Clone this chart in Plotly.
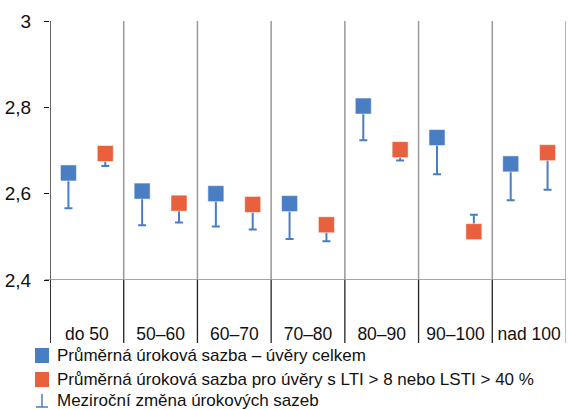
import plotly.graph_objects as go

categories = ["do 50", "50–60", "60–70", "70–80", "80–90", "90–100", "nad 100"]
rate_all = [2.648, 2.606, 2.600, 2.577, 2.803, 2.730, 2.669]
rate_all_prev = [2.566, 2.527, 2.524, 2.495, 2.724, 2.645, 2.585]
rate_risky = [2.693, 2.578, 2.575, 2.528, 2.702, 2.512, 2.695]
rate_risky_prev = [2.664, 2.533, 2.517, 2.490, 2.677, 2.551, 2.609]
y_ticks = [2.4, 2.6, 2.8, 3.0]
y_ticklabels = ["2,4", "2,6", "2,8", "3"]
legend_names = [
    "Průměrná úroková sazba – úvěry celkem",
    "Průměrná úroková sazba pro úvěry s LTI > 8 nebo LSTI > 40 %",
    "Meziroční změna úrokových sazeb",
]

BLUE = "#4a7ec3"
ORANGE = "#e8603e"
FONT = "Liberation Sans, Arial, sans-serif"

# plot area geometry (px)
L, R, T, B = 50, 566, 21, 280
W, H = 568, 410
pw, ph = R - L, B - T


def px_x(X):
    return (X - L) / pw


def px_y(Y):
    return (B - Y) / ph


n = len(categories)
xs = list(range(n))


def err(cur, prev):
    plus = [max(p - c, 0) for c, p in zip(cur, prev)]
    minus = [max(c - p, 0) for c, p in zip(cur, prev)]
    return plus, minus


fig = go.Figure()
for vals, prev, col, off, name in [
    (rate_all, rate_all_prev, BLUE, -0.25, legend_names[0]),
    (rate_risky, rate_risky_prev, ORANGE, 0.25, legend_names[1]),
]:
    plus, minus = err(vals, prev)
    fig.add_trace(go.Scatter(
        x=[x + off for x in xs], y=vals, mode="markers", name=name,
        marker=dict(symbol="square", size=16, color=col,
                    line=dict(color="rgba(255,255,255,0.5)", width=1)),
        error_y=dict(type="data", symmetric=False, array=plus, arrayminus=minus,
                     color=BLUE, thickness=2, width=4),
        showlegend=False,
    ))

shapes = []
below = -(343 - B) / ph
for i in range(n + 1):
    xb = i - 0.5
    if i > 0:
        shapes.append(dict(type="line", xref="x", yref="paper", x0=xb, x1=xb, y0=0, y1=1,
                           line=dict(color="#999999", width=1.5)))
    shapes.append(dict(type="line", xref="x", yref="paper", x0=xb, x1=xb, y0=below, y1=0,
                       line=dict(color="#222222" if i < n else "#999999", width=1.3)))
# left axis line (full height incl. below)
shapes.append(dict(type="line", xref="x", yref="paper", x0=-0.5, x1=-0.5, y0=below, y1=1,
                   line=dict(color="#111111", width=1.3)))
# horizontal axis line at 2.4
shapes.append(dict(type="line", xref="paper", yref="y", x0=px_x(45), x1=1, y0=2.4, y1=2.4,
                   line=dict(color="#888888", width=1.5)))

# manual legend
annotations = []
rows = [355, 379, 400]
for k, yc in enumerate(rows[:2]):
    col = BLUE if k == 0 else ORANGE
    shapes.append(dict(type="rect", xref="paper", yref="paper",
                       x0=px_x(35), x1=px_x(49), y0=px_y(yc + 8), y1=px_y(yc - 7),
                       fillcolor=col, line=dict(width=0)))
# error-bar legend symbol
yc = rows[2]
shapes.append(dict(type="line", xref="paper", yref="paper", x0=px_x(42), x1=px_x(42),
                   y0=px_y(yc + 7), y1=px_y(yc - 6), line=dict(color=BLUE, width=1.5)))
shapes.append(dict(type="line", xref="paper", yref="paper", x0=px_x(36), x1=px_x(48),
                   y0=px_y(yc + 7), y1=px_y(yc + 7), line=dict(color=BLUE, width=1.5)))
for k, yc in enumerate(rows):
    annotations.append(dict(x=px_x(55), y=px_y(yc), xref="paper", yref="paper",
                            text=legend_names[k], showarrow=False, xanchor="left",
                            yanchor="middle", font=dict(size=17, color="#111111", family=FONT)))

fig.update_layout(
    width=W, height=H,
    margin=dict(l=L, r=W - R, t=T, b=H - B),
    paper_bgcolor="white", plot_bgcolor="white",
    font=dict(family=FONT, size=17, color="#111111"),
    shapes=shapes, annotations=annotations,
    showlegend=False,
)
fig.update_xaxes(range=[-0.5, n - 0.5], tickvals=xs, ticktext=categories,
                 showgrid=False, zeroline=False, showline=False, ticks="",
                 ticklabelstandoff=41, tickfont=dict(size=17.5))
fig.update_yaxes(range=[2.4, 3.0], tickvals=y_ticks, ticktext=y_ticklabels,
                 showgrid=False, zeroline=False, showline=False,
                 ticks="outside", ticklen=5, tickcolor="#111111", tickwidth=1.3,
                 ticklabelstandoff=9, tickfont=dict(size=19))

fig.write_html("out.html")
